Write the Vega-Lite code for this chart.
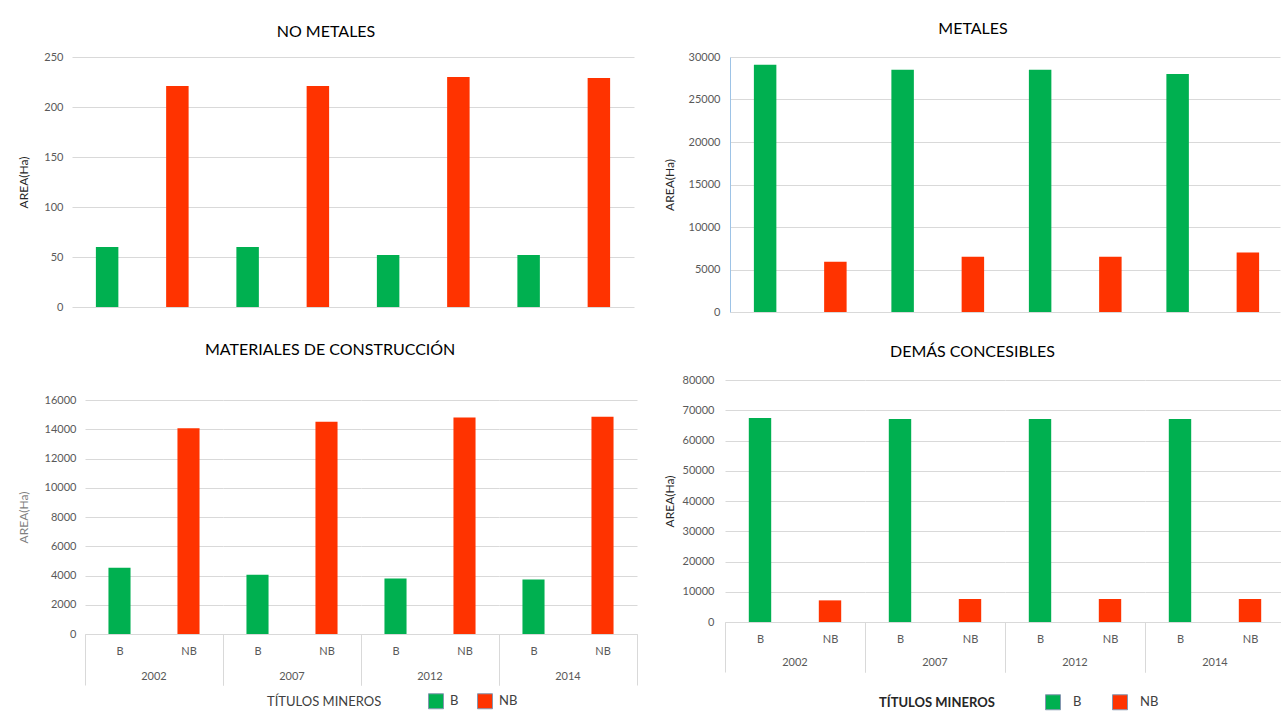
{
  "$schema": "https://vega.github.io/schema/vega-lite/v6.json",
  "padding": {"left": 16, "top": 20, "right": 0, "bottom": 0},
  "background": "white",
  "config": {
    "font": "Lato",
    "view": {"stroke": null},
    "axis": {"labelColor": "#595959", "labelFontSize": 11, "titleFontWeight": "normal", "titleFontSize": 12, "gridColor": "#D9D9D9", "domain": false, "ticks": false},
    "title": {"fontSize": 16, "fontWeight": "normal", "color": "#000000", "baseline": "alphabetic", "frame": "group"},
    "header": {"labelFontSize": 11, "labelColor": "#595959"}
  },
  "datasets": {
    "nometales": [
      {"year": "2002", "tipo": "B", "area": 60}, {"year": "2002", "tipo": "NB", "area": 221},
      {"year": "2007", "tipo": "B", "area": 60}, {"year": "2007", "tipo": "NB", "area": 221},
      {"year": "2012", "tipo": "B", "area": 52}, {"year": "2012", "tipo": "NB", "area": 230},
      {"year": "2014", "tipo": "B", "area": 52}, {"year": "2014", "tipo": "NB", "area": 229}
    ],
    "metales": [
      {"year": "2002", "tipo": "B", "area": 29100}, {"year": "2002", "tipo": "NB", "area": 5900},
      {"year": "2007", "tipo": "B", "area": 28500}, {"year": "2007", "tipo": "NB", "area": 6500},
      {"year": "2012", "tipo": "B", "area": 28500}, {"year": "2012", "tipo": "NB", "area": 6500},
      {"year": "2014", "tipo": "B", "area": 28000}, {"year": "2014", "tipo": "NB", "area": 7000}
    ],
    "construccion": [
      {"year": "2002", "tipo": "B", "area": 4530}, {"year": "2002", "tipo": "NB", "area": 14070},
      {"year": "2007", "tipo": "B", "area": 4050}, {"year": "2007", "tipo": "NB", "area": 14520},
      {"year": "2012", "tipo": "B", "area": 3800}, {"year": "2012", "tipo": "NB", "area": 14800},
      {"year": "2014", "tipo": "B", "area": 3730}, {"year": "2014", "tipo": "NB", "area": 14860}
    ],
    "demas": [
      {"year": "2002", "tipo": "B", "area": 67450}, {"year": "2002", "tipo": "NB", "area": 7150},
      {"year": "2007", "tipo": "B", "area": 67100}, {"year": "2007", "tipo": "NB", "area": 7600},
      {"year": "2012", "tipo": "B", "area": 67100}, {"year": "2012", "tipo": "NB", "area": 7600},
      {"year": "2014", "tipo": "B", "area": 67100}, {"year": "2014", "tipo": "NB", "area": 7600}
    ]
  },
  "resolve": {"scale": {"color": "independent"}, "legend": {"color": "independent"}},
  "spacing": 24,
  "hconcat": [
    {
      "spacing": 30,
      "resolve": {"scale": {"color": "independent"}, "legend": {"color": "independent"}},
      "vconcat": [
        {
          "spacing": 0,
          "resolve": {"scale": {"color": "independent"}, "legend": {"color": "independent"}},
          "hconcat": [
            {"width": 1, "height": 1, "data": {"values": []}, "mark": "point", "encoding": {}},
            {
              "data": {"name": "nometales"},
              "title": {"text": "NO METALES", "offset": 11.5, "dx": -27, "anchor": "middle"},
              "width": 562, "height": 250,
              "mark": "bar",
              "encoding": {
                "x": {"field": "year", "type": "nominal", "axis": null, "scale": {"paddingInner": 0, "paddingOuter": 0}},
                "xOffset": {"field": "tipo", "type": "nominal", "scale": {"paddingInner": 0.68, "paddingOuter": 0.34}},
                "y": {"field": "area", "type": "quantitative", "scale": {"domain": [0, 250]},
                      "axis": {"values": [0, 50, 100, 150, 200, 250], "title": "AREA(Ha)", "labelPadding": 9, "minExtent": 30, "maxExtent": 30, "titlePadding": 12, "titleColor": "#262626"}},
                "color": {"field": "tipo", "type": "nominal", "scale": {"domain": ["B", "NB"], "range": ["#00B050", "#FF3300"]}, "legend": null}
              }
            }
          ]
        },
        {
          "spacing": 0,
          "resolve": {"scale": {"color": "independent"}, "legend": {"color": "independent"}},
          "hconcat": [
            {"width": 1, "height": 1, "data": {"values": []}, "mark": "point", "encoding": {}},
            {
              "data": {"name": "construccion"},
              "title": {"text": "MATERIALES DE CONSTRUCCIÓN", "offset": 36, "dx": 120, "anchor": "start"},
              "facet": {"column": {"field": "year", "type": "nominal", "header": {"labelOrient": "bottom", "labelPadding": -15, "title": null}}},
              "spacing": 0,
              "spec": {
                "width": 138, "height": 234,
                "mark": {"type": "bar", "width": {"band": 0.32}},
                "encoding": {
                  "x": {"field": "tipo", "type": "nominal", "scale": {"paddingInner": 0, "paddingOuter": 0},
                        "axis": {"title": null, "labelAngle": 0, "labelPadding": -40, "ticks": true, "tickBand": "extent", "tickSize": 51, "tickColor": "#D9D9D9",
                                 "tickOpacity": {"condition": {"test": "datum.value === 'B'", "value": 0}, "value": 1},
                                 "domain": true, "domainColor": "#D9D9D9"}},
                  "y": {"field": "area", "type": "quantitative", "scale": {"domain": [0, 16000]},
                        "axis": {"values": [0, 2000, 4000, 6000, 8000, 10000, 12000, 14000, 16000], "format": "d", "title": "AREA(Ha)", "titleColor": "#7F7F7F", "labelPadding": 9, "minExtent": 40, "maxExtent": 40, "titlePadding": 15}},
                  "color": {"field": "tipo", "type": "nominal", "scale": {"domain": ["B", "NB"], "range": ["#00B050", "#FF3300"]},
                            "legend": {"orient": "none", "legendX": 182, "legendY": 293, "direction": "horizontal", "title": "TÍTULOS MINEROS", "titleOrient": "left", "titlePadding": 46, "titleFontSize": 13, "titleFontWeight": "normal", "titleColor": "#404040", "symbolType": "square", "symbolSize": 225, "symbolStrokeWidth": 1, "symbolStrokeColor": "#8497B0", "labelFontSize": 13, "labelColor": "#404040", "columnPadding": 16, "labelOffset": 6}}
                }
              }
            }
          ]
        }
      ]
    },
    {
      "spacing": 27,
      "resolve": {"scale": {"color": "independent"}, "legend": {"color": "independent"}},
      "vconcat": [
        {
          "spacing": 0,
          "resolve": {"scale": {"color": "independent"}, "legend": {"color": "independent"}},
          "hconcat": [
            {"width": 1, "height": 1, "data": {"values": []}, "mark": "point", "encoding": {}},
            {
              "data": {"name": "metales"},
              "title": {"text": "METALES", "offset": 14.5, "dx": -32, "anchor": "middle"},
              "width": 550, "height": 255,
              "mark": "bar",
              "encoding": {
                "x": {"field": "year", "type": "nominal", "axis": null, "scale": {"paddingInner": 0, "paddingOuter": 0}},
                "xOffset": {"field": "tipo", "type": "nominal", "scale": {"paddingInner": 0.68, "paddingOuter": 0.34}},
                "y": {"field": "area", "type": "quantitative", "scale": {"domain": [0, 30000]},
                      "axis": {"values": [0, 5000, 10000, 15000, 20000, 25000, 30000], "format": "d", "title": "AREA(Ha)", "labelPadding": 10, "minExtent": 40, "maxExtent": 40, "titlePadding": 14, "titleColor": "#262626", "domain": true, "domainColor": "#9DC3E6"}},
                "color": {"field": "tipo", "type": "nominal", "scale": {"domain": ["B", "NB"], "range": ["#00B050", "#FF3300"]}, "legend": null}
              }
            }
          ]
        },
        {
          "spacing": 0,
          "resolve": {"scale": {"color": "independent"}, "legend": {"color": "independent"}},
          "hconcat": [
            {"width": 1, "height": 1, "data": {"values": []}, "mark": "point", "encoding": {}},
            {
              "data": {"name": "demas"},
              "title": {"text": "DEMÁS CONCESIBLES", "offset": 14, "dx": 165, "anchor": "start"},
              "facet": {"column": {"field": "year", "type": "nominal", "header": {"labelOrient": "bottom", "labelPadding": -16, "title": null}}},
              "spacing": 0,
              "spec": {
                "width": 140, "height": 242,
                "mark": {"type": "bar", "width": {"band": 0.32}},
                "encoding": {
                  "x": {"field": "tipo", "type": "nominal", "scale": {"paddingInner": 0, "paddingOuter": 0},
                        "axis": {"title": null, "labelAngle": 0, "labelPadding": -39, "ticks": true, "tickBand": "extent", "tickSize": 50, "tickColor": "#D9D9D9",
                                 "tickOpacity": {"condition": {"test": "datum.value === 'B'", "value": 0}, "value": 1},
                                 "domain": true, "domainColor": "#D9D9D9"}},
                  "y": {"field": "area", "type": "quantitative", "scale": {"domain": [0, 80000]},
                        "axis": {"values": [0, 10000, 20000, 30000, 40000, 50000, 60000, 70000, 80000], "format": "d", "title": "AREA(Ha)", "titleColor": "#262626", "labelPadding": 11, "minExtent": 40, "maxExtent": 40, "titlePadding": 9}},
                  "color": {"field": "tipo", "type": "nominal", "scale": {"domain": ["B", "NB"], "range": ["#00B050", "#FF3300"]},
                            "legend": {"orient": "none", "legendX": 154, "legendY": 314, "direction": "horizontal", "title": "TÍTULOS MINEROS", "titleOrient": "left", "titlePadding": 50, "titleFontSize": 13, "titleFontWeight": "bold", "titleColor": "#262626", "symbolType": "square", "symbolSize": 225, "symbolStrokeWidth": 1, "symbolStrokeColor": "#8497B0", "labelFontSize": 13, "labelColor": "#404040", "columnPadding": 28, "labelOffset": 12}}
                }
              }
            }
          ]
        }
      ]
    }
  ]
}
